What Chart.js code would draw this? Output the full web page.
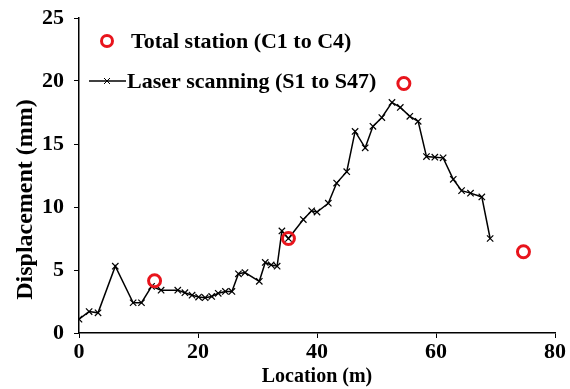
<!DOCTYPE html>
<html>
<head>
<meta charset="utf-8">
<script src="https://cdn.jsdelivr.net/npm/chart.js@4"></script>
<style>
  html, body { margin: 0; padding: 0; background: #fff; }
  #wrap { width: 570px; height: 389px; position: relative; }
</style>
</head>
<body>
<div id="wrap"><canvas id="chart"></canvas></div>
<script>
// Laser scanning profile (S1 to S47)
const laserX = [0, 1.7, 3.2, 6.1, 9.1, 10.5, 12.2, 13.8, 16.6, 17.8, 19.0, 20.1, 21.2, 22.3, 23.4, 24.6,
  25.7, 26.8, 27.9, 30.3, 31.3, 32.3, 33.3, 34.1, 35.2, 37.7, 39.1, 40.0, 41.9, 43.3, 45.0, 46.4,
  48.1, 49.4, 50.9, 52.6, 54.0, 55.6, 57.0, 58.4, 59.8, 61.2, 62.9, 64.3, 65.8, 67.7, 69.1];
const laserY = [1.1, 1.7, 1.6, 5.3, 2.4, 2.4, 3.7, 3.4, 3.4, 3.2, 3.0, 2.85, 2.8, 2.9, 3.15, 3.3,
  3.3, 4.7, 4.8, 4.1, 5.6, 5.4, 5.3, 8.1, 7.5, 9.0, 9.7, 9.6, 10.3, 11.9, 12.8, 16.0,
  14.7, 16.4, 17.1, 18.3, 17.9, 17.2, 16.8, 14.0, 13.95, 13.9, 12.2, 11.3, 11.1, 10.8, 7.5];

// Total station (C1 to C4)
const stationX = [12.7, 35.2, 54.6, 74.7];
const stationY = [4.15, 7.5, 19.8, 6.45];

const xTicks = [0, 20, 40, 60, 80];
const yTicks = [0, 5, 10, 15, 20, 25];

const FONT = '"Liberation Serif", "DejaVu Serif", serif';
const RED = "#e8141c";

const toPoints = (xs, ys) => xs.map((x, i) => ({ x, y: ys[i] }));

// legend drawn inside the plot, top-left
const insideLegend = {
  id: "insideLegend",
  afterDraw(chart) {
    const ctx = chart.ctx;
    ctx.save();
    ctx.font = `bold 22px ${FONT}`;
    ctx.fillStyle = "#000";
    ctx.textBaseline = "middle";
    ctx.textAlign = "left";

    // total station entry
    ctx.strokeStyle = RED;
    ctx.lineWidth = 3;
    ctx.beginPath();
    ctx.arc(107, 41, 5.5, 0, Math.PI * 2);
    ctx.stroke();
    ctx.fillText("Total station (C1 to C4)", 131, 42);

    // laser scanning entry
    ctx.strokeStyle = "#000";
    ctx.lineWidth = 1.5;
    ctx.beginPath();
    ctx.moveTo(89, 81);
    ctx.lineTo(126, 81);
    ctx.stroke();
    ctx.lineWidth = 1;
    ctx.beginPath();
    ctx.moveTo(104, 78); ctx.lineTo(110, 84);
    ctx.moveTo(110, 78); ctx.lineTo(104, 84);
    ctx.stroke();
    ctx.fillText("Laser scanning (S1 to S47)", 127, 82);
    ctx.restore();
  },
};

new Chart(document.getElementById("chart"), {
  type: "scatter",
  data: {
    datasets: [
      {
        label: "Total station (C1 to C4)",
        data: toPoints(stationX, stationY),
        pointStyle: "circle",
        pointRadius: 6,
        pointBorderWidth: 3,
        borderColor: RED,
        backgroundColor: "rgba(0,0,0,0)",
        showLine: false,
      },
      {
        label: "Laser scanning (S1 to S47)",
        data: toPoints(laserX, laserY),
        showLine: true,
        borderColor: "#000",
        borderWidth: 1.5,
        backgroundColor: "#000",
        pointStyle: "crossRot",
        pointRadius: 4.5,
        pointBorderWidth: 1.2,
        tension: 0,
      },
    ],
  },
  plugins: [insideLegend],
  options: {
    responsive: true,
    maintainAspectRatio: false,
    animation: false,
    layout: { padding: { top: 18, right: 15, left: 0, bottom: 0 } },
    plugins: {
      legend: { display: false },
      tooltip: { enabled: false },
    },
    scales: {
      x: {
        type: "linear",
        min: 0,
        max: 80,
        afterBuildTicks: (scale) => { scale.ticks = xTicks.map((v) => ({ value: v })); },
        afterFit: (scale) => { scale.height = 56; },
        ticks: { color: "#000", font: { family: FONT, size: 22, weight: "bold" }, padding: 1 },
        grid: { drawOnChartArea: false, drawTicks: true, tickLength: 5, color: "#000" },
        border: { color: "#000", width: 1.5 },
        title: {
          display: true,
          text: "Location (m)",
          color: "#000",
          font: { family: FONT, size: 20, weight: "bold" },
          padding: { top: 0, bottom: 0 },
        },
      },
      y: {
        min: 0,
        max: 25,
        afterBuildTicks: (scale) => { scale.ticks = yTicks.map((v) => ({ value: v })); },
        afterFit: (scale) => {
          scale.width = 79;
          scale.paddingTop = 0;
          scale.paddingBottom = 0;
        },
        ticks: { color: "#000", font: { family: FONT, size: 22, weight: "bold" }, padding: 10 },
        grid: { drawOnChartArea: false, drawTicks: true, tickLength: 5, color: "#000" },
        border: { color: "#000", width: 1.5 },
        title: {
          display: true,
          // trailing spaces push the rotated title down to where the original sits
          text: "Displacement (mm)\u00a0\u00a0\u00a0\u00a0\u00a0\u00a0\u00a0\u00a0",
          color: "#000",
          font: { family: FONT, size: 24, weight: "bold" },
          padding: { top: 11, bottom: 0 },
        },
      },
    },
  },
});
</script>
</body>
</html>
